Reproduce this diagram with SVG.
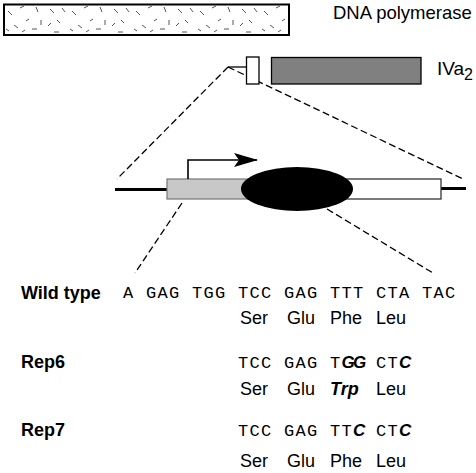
<svg xmlns="http://www.w3.org/2000/svg" width="476" height="473" viewBox="0 0 476 473">
<style>
.sans{font-family:"Liberation Sans",Arial,sans-serif;fill:#000}
.lbl{font-size:18px;font-weight:bold}
.aa{font-size:18px}
.mono{font-family:"Liberation Mono","Courier New",monospace;font-size:17px;fill:#000}
.bi{font-family:"Liberation Sans",Arial,sans-serif;font-weight:bold;font-style:italic}
.dash{stroke:#000;stroke-width:1.3;stroke-dasharray:7 3.5;fill:none}
</style>
<defs>
<pattern id="tex" patternUnits="userSpaceOnUse" x="4" y="4" width="64" height="31">
<g stroke="#555" stroke-width="1" fill="none">
<line x1="4" y1="7" x2="8" y2="11"/>
<line x1="16" y1="4" x2="20" y2="2"/>
<line x1="32" y1="3" x2="34" y2="8"/>
<line x1="46" y1="5" x2="50" y2="9"/>
<line x1="58" y1="4" x2="61" y2="8"/>
<line x1="10" y1="21" x2="14" y2="24"/>
<line x1="22" y1="17" x2="25" y2="15"/>
<line x1="28" y1="25" x2="33" y2="25"/>
<line x1="37" y1="16" x2="37" y2="21"/>
<line x1="44" y1="22" x2="47" y2="19"/>
<line x1="53" y1="16" x2="56" y2="19"/>
<line x1="18" y1="28" x2="21" y2="26"/>
<line x1="50" y1="28" x2="55" y2="28"/>
<line x1="2" y1="25" x2="5" y2="27"/>
</g>
</pattern>
<marker id="ah" viewBox="0 0 24 14" refX="23" refY="7" markerWidth="24" markerHeight="14" markerUnits="userSpaceOnUse" orient="auto">
<path d="M0,0 L24,7 L0,14 L5,7 Z" fill="#000"/>
</marker>
</defs>

<g id="dna-polymerase">
<rect x="4" y="4.5" width="285" height="30.5" fill="#fff" stroke="none"/>
<rect x="4" y="4.5" width="285" height="30.5" fill="url(#tex)" stroke="#000" stroke-width="2"/>
<text class="sans" x="333" y="19" font-size="18.5">DNA polymerase</text>
</g>

<g id="connectors">
<line x1="228" y1="67" x2="246" y2="67" stroke="#000" stroke-width="1.3"/>
<line class="dash" x1="228" y1="67" x2="117" y2="179"/>
<line class="dash" x1="228" y1="67" x2="463" y2="179"/>
<line class="dash" x1="182" y1="203" x2="135" y2="273"/>
<line class="dash" x1="327" y1="209" x2="433" y2="273"/>
</g>

<g id="iva2">
<rect x="246.5" y="57" width="12.5" height="27" fill="#fff" stroke="#000" stroke-width="1.3"/>
<rect x="271.5" y="57.5" width="149.5" height="26.5" fill="#808080" stroke="#000" stroke-width="1.3"/>
<text class="sans" x="437" y="75" font-size="19">IVa<tspan font-size="16" dy="5">2</tspan></text>
</g>

<g id="gene">
<line x1="115" y1="189.5" x2="168" y2="189.5" stroke="#000" stroke-width="3"/>
<line x1="440" y1="188.5" x2="466" y2="188.5" stroke="#000" stroke-width="3"/>
<rect x="167" y="179" width="110" height="20" fill="#c8c8c8" stroke="#777" stroke-width="1.2"/>
<rect x="300" y="179" width="141" height="20" fill="#fff" stroke="#333" stroke-width="1.3"/>
<ellipse cx="297" cy="189" rx="56" ry="22" fill="#000"/>
<path d="M188,179 V160 H257" fill="none" stroke="#000" stroke-width="1.6" marker-end="url(#ah)"/>
</g>

<g id="wild-type">
<text class="sans lbl" x="21" y="299">Wild type</text>
<text class="mono" x="123" y="298" letter-spacing="1.3">A GAG TGG TCC GAG TTT CTA TAC</text>
<text class="sans aa" y="324"><tspan x="240">Ser</tspan><tspan x="287">Glu</tspan><tspan x="330">Phe</tspan><tspan x="376">Leu</tspan></text>
</g>

<g id="rep6">
<text class="sans lbl" x="21" y="368">Rep6</text>
<text class="mono" y="368"><tspan x="238 249.5 261">TCC</tspan><tspan x="284 295.5 307">GAG</tspan><tspan x="330">T</tspan><tspan class="bi" x="341.5 353">GG</tspan><tspan x="376 387.5">CT</tspan><tspan class="bi" x="399">C</tspan></text>
<text class="sans aa" y="395"><tspan x="240">Ser</tspan><tspan x="287">Glu</tspan><tspan class="bi" x="330">Trp</tspan><tspan x="376">Leu</tspan></text>
</g>

<g id="rep7">
<text class="sans lbl" x="21" y="436">Rep7</text>
<text class="mono" y="436"><tspan x="238 249.5 261">TCC</tspan><tspan x="284 295.5 307">GAG</tspan><tspan x="330 341.5">TT</tspan><tspan class="bi" x="353">C</tspan><tspan x="376 387.5">CT</tspan><tspan class="bi" x="399">C</tspan></text>
<text class="sans aa" y="467"><tspan x="240">Ser</tspan><tspan x="287">Glu</tspan><tspan x="330">Phe</tspan><tspan x="376">Leu</tspan></text>
</g>
</svg>
